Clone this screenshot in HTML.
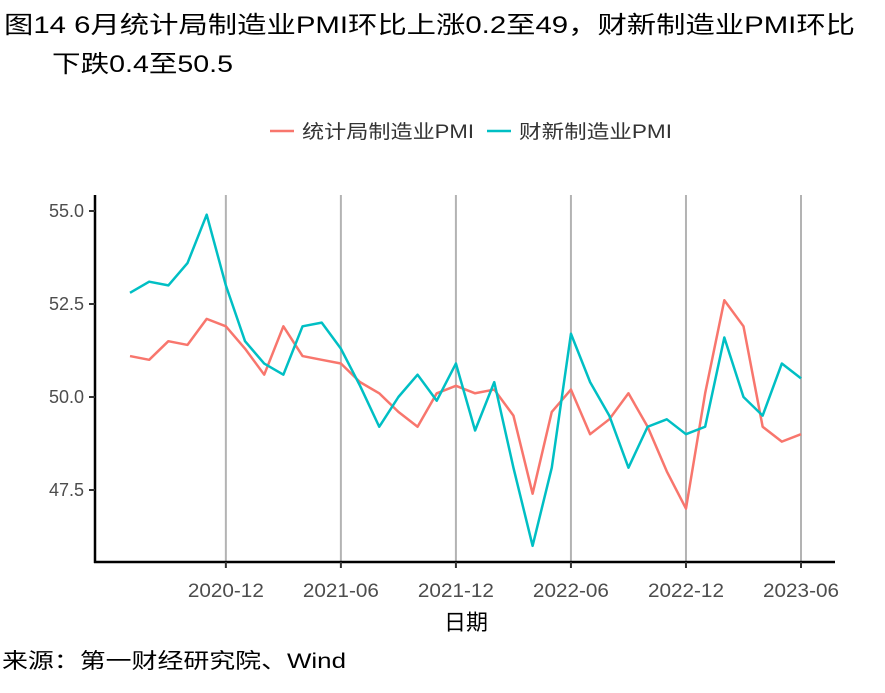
<!DOCTYPE html>
<html><head><meta charset="utf-8"><style>
body{margin:0;background:#fff;font-family:"Liberation Sans","Noto Sans CJK SC",sans-serif;}
</style></head><body>
<svg width="885" height="688" xmlns="http://www.w3.org/2000/svg" font-family="Liberation Sans, Noto Sans CJK SC, sans-serif">
<text x="4" y="33" font-size="24" fill="#000" textLength="851" lengthAdjust="spacingAndGlyphs">图14 6月统计局制造业PMI环比上涨0.2至49，财新制造业PMI环比</text>
<text x="52" y="72" font-size="24" fill="#000" textLength="181" lengthAdjust="spacingAndGlyphs">下跌0.4至50.5</text>
<g>
<line x1="270" y1="131" x2="294" y2="131" stroke="#F8766D" stroke-width="2.5"/>
<text x="302" y="138" font-size="19" fill="#333" textLength="172" lengthAdjust="spacingAndGlyphs">统计局制造业PMI</text>
<line x1="487" y1="131" x2="511" y2="131" stroke="#00BFC4" stroke-width="2.5"/>
<text x="519" y="138" font-size="19" fill="#333" textLength="153" lengthAdjust="spacingAndGlyphs">财新制造业PMI</text>
</g>
<g id="grid"></g>
<g id="series"></g>
<line x1="95" y1="195" x2="95" y2="563" stroke="#000" stroke-width="2.5"/>
<line x1="94" y1="562" x2="835" y2="562" stroke="#000" stroke-width="2.5"/>
<g id="yticks"></g>
<g id="xticks"></g>
<text x="466" y="630" font-size="22" text-anchor="middle" fill="#000">日期</text>
<text x="2" y="668" font-size="21" fill="#000" textLength="344" lengthAdjust="spacingAndGlyphs">来源：第一财经研究院、Wind</text>
</svg>
<script>
const months=["2020-07","2020-08","2020-09","2020-10","2020-11","2020-12","2021-01","2021-02","2021-03","2021-04","2021-05","2021-06","2021-07","2021-08","2021-09","2021-10","2021-11","2021-12","2022-01","2022-02","2022-03","2022-04","2022-05","2022-06","2022-07","2022-08","2022-09","2022-10","2022-11","2022-12","2023-01","2023-02","2023-03","2023-04","2023-05","2023-06"];
const nbsPMI=[51.1,51.0,51.5,51.4,52.1,51.9,51.3,50.6,51.9,51.1,51.0,50.9,50.4,50.1,49.6,49.2,50.1,50.3,50.1,50.2,49.5,47.4,49.6,50.2,49.0,49.4,50.1,49.2,48.0,47.0,50.1,52.6,51.9,49.2,48.8,49.0];
const caixinPMI=[52.8,53.1,53.0,53.6,54.9,53.0,51.5,50.9,50.6,51.9,52.0,51.3,50.3,49.2,50.0,50.6,49.9,50.9,49.1,50.4,48.1,46.0,48.1,51.7,50.4,49.5,48.1,49.2,49.4,49.0,49.2,51.6,50.0,49.5,50.9,50.5];
const yTicks=[47.5,50.0,52.5,55.0];
const xTickLabels=["2020-12","2021-06","2021-12","2022-06","2022-12","2023-06"];
const NS="http://www.w3.org/2000/svg";
const x=i=>130+i*(801-130)/35;
const y=v=>397-(v-50)*37.2;
function mk(t,a,p){const e=document.createElementNS(NS,t);for(const k in a)e.setAttribute(k,a[k]);p.appendChild(e);return e;}
const grid=document.getElementById('grid'),xt=document.getElementById('xticks'),yt=document.getElementById('yticks'),ser=document.getElementById('series');
xTickLabels.forEach(l=>{const i=months.indexOf(l);const g=mk('line',{x1:x(i),x2:x(i),y1:195,y2:562,stroke:'#b3b3b3','stroke-width':2},grid);


mk('line',{x1:x(i),x2:x(i),y1:562,y2:568,stroke:'#333','stroke-width':2},xt);
const t=mk('text',{x:x(i)-38,y:597,'font-size':19,textLength:76,lengthAdjust:'spacingAndGlyphs',fill:'#4d4d4d'},xt);t.textContent=l;

});
yTicks.forEach(v=>{mk('line',{x1:89,x2:95,y1:y(v),y2:y(v),stroke:'#333','stroke-width':2},yt);
const t=mk('text',{x:84,y:y(v)+6,'font-size':18,'text-anchor':'end',fill:'#4d4d4d'},yt);t.textContent=v.toFixed(1);

});
[[nbsPMI,'#F8766D','line-nbs-pmi'],[caixinPMI,'#00BFC4','line-caixin-pmi']].forEach(([d,c,n])=>{
const p=mk('polyline',{points:d.map((v,i)=>x(i)+','+y(v)).join(' '),fill:'none',stroke:c,'stroke-width':2.5,'stroke-linejoin':'round'},ser);

});
</script>
</body></html>
